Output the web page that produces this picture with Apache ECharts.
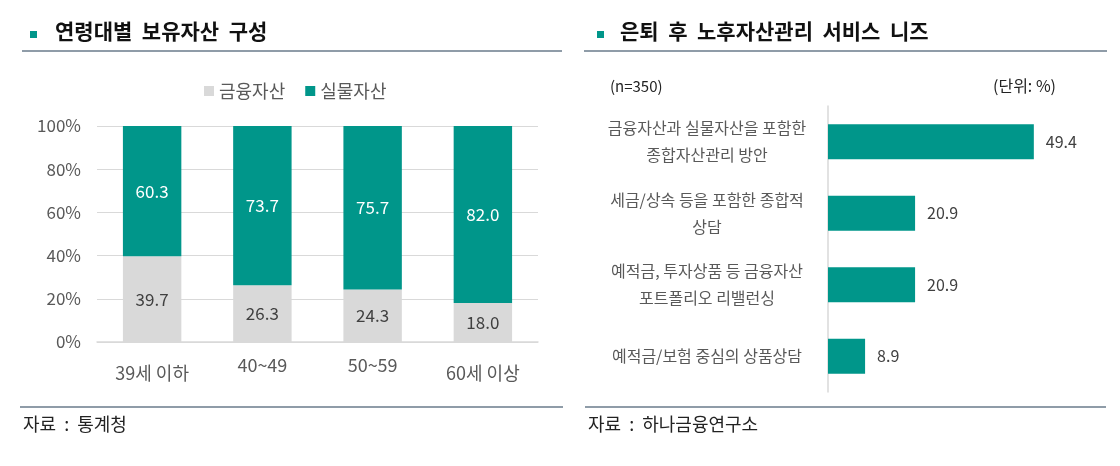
<!DOCTYPE html>
<html>
<head>
<meta charset="utf-8">
<script src="https://cdn.jsdelivr.net/npm/echarts@6/dist/echarts.min.js"></script>
<style>
  html, body { margin: 0; padding: 0; background: #fff; }
  #main { width: 1120px; height: 466px; }
</style>
</head>
<body>
<div id="main"></div>
<script>
// 왼쪽: 연령대별 보유자산 구성
var ageGroups = ['39세 이하', '40~49', '50~59', '60세 이상'];
var financial = [39.7, 26.3, 24.3, 18.0];
var realAsset = [60.3, 73.7, 75.7, 82.0];

// 오른쪽: 노후자산관리 서비스 니즈
var needs = [
    '금융자산과 실물자산을 포함한\n종합자산관리 방안',
    '세금/상속 등을 포함한 종합적\n상담',
    '예적금, 투자상품 등 금융자산\n포트폴리오 리밸런싱',
    '예적금/보험 중심의 상품상담'
];
var needValues = [49.4, 20.9, 20.9, 8.9];

var FONT = "'Noto Sans CJK KR', 'Noto Sans', sans-serif";
var TEAL = '#00968a';
var GRAY = '#d9d9d9';
var TXT = '#595959';
var LINE = '#8f9ca8';

var myChart = echarts.init(document.getElementById('main'));

var option = {
    animation: false,
    textStyle: { fontFamily: FONT },
    legend: {
        data: ['금융자산', '실물자산'],
        top: 77,
        left: 199,
        itemWidth: 10,
        itemHeight: 10,
        itemGap: 20,
        icon: 'rect',
        textStyle: { fontSize: 18, color: TXT, fontFamily: FONT }
    },
    graphic: [
        { type: 'rect', shape: { x: 30, y: 31, width: 7, height: 7 }, style: { fill: TEAL } },
        { type: 'text', left: 55, top: 21, style: { text: '연령대별  보유자산  구성', font: 'bold 21px ' + FONT, fill: '#111' } },
        { type: 'rect', shape: { x: 22, y: 50, width: 540, height: 2 }, style: { fill: LINE } },
        { type: 'rect', shape: { x: 597, y: 31, width: 7, height: 7 }, style: { fill: TEAL } },
        { type: 'text', left: 620, top: 21, style: { text: '은퇴  후  노후자산관리  서비스  니즈', font: 'bold 21px ' + FONT, fill: '#111' } },
        { type: 'rect', shape: { x: 584, y: 50, width: 523, height: 2 }, style: { fill: LINE } },
        { type: 'text', left: 610, top: 79, style: { text: '(n=350)', font: '15px ' + FONT, fill: '#222' } },
        { type: 'text', left: 993, top: 78, style: { text: '(단위: %)', font: '16px ' + FONT, fill: '#222' } },
        { type: 'rect', shape: { x: 20, y: 406, width: 543, height: 2 }, style: { fill: LINE } },
        { type: 'rect', shape: { x: 585, y: 406, width: 521, height: 2 }, style: { fill: LINE } },
        { type: 'text', left: 23, top: 415, style: { text: '자료  :  통계청', font: '18px ' + FONT, fill: '#222' } },
        { type: 'text', left: 588, top: 415, style: { text: '자료  :  하나금융연구소', font: '18px ' + FONT, fill: '#222' } }
    ],
    grid: [
        { left: 97, right: 582, top: 126, bottom: 124 },
        { left: 828, width: 250, top: 106, height: 286 }
    ],
    xAxis: [
        {
            gridIndex: 0,
            type: 'category',
            data: ageGroups,
            axisTick: { show: false },
            axisLine: { lineStyle: { color: GRAY, width: 1.5 } },
            axisLabel: {
                margin: 14,
                interval: 0,
                formatter: function (v, i) {
                    return (i === 0 || i === 3) ? '{lo|' + v + '}' : '{hi|' + v + '}';
                },
                rich: {
                    lo: { fontSize: 18, color: TXT, fontFamily: FONT, padding: [8, 0, 0, 0] },
                    hi: { fontSize: 18, color: TXT, fontFamily: FONT, padding: [0, 0, 0, 0] }
                }
            }
        },
        {
            gridIndex: 1,
            type: 'value',
            min: 0,
            max: 60,
            show: false
        }
    ],
    yAxis: [
        {
            gridIndex: 0,
            type: 'value',
            min: 0,
            max: 100,
            interval: 20,
            axisLine: { show: false },
            axisTick: { show: false },
            axisLabel: { formatter: '{value}%', fontSize: 17, color: TXT, margin: 16 },
            splitLine: { lineStyle: { color: GRAY, width: 1 } }
        },
        {
            gridIndex: 1,
            type: 'category',
            data: needs,
            inverse: true,
            axisTick: { show: false },
            axisLine: { lineStyle: { color: GRAY, width: 1.5 } },
            axisLabel: {
                interval: 0,
                align: 'center',
                margin: 121,
                fontSize: 16,
                lineHeight: 27,
                color: TXT
            }
        }
    ],
    series: [
        {
            name: '금융자산',
            type: 'bar',
            stack: 'total',
            xAxisIndex: 0,
            yAxisIndex: 0,
            barWidth: '53%',
            data: financial,
            itemStyle: { color: GRAY },
            label: {
                show: true,
                position: 'inside',
                fontSize: 17,
                color: '#404040',
                formatter: function (p) { return p.value.toFixed(1); }
            }
        },
        {
            name: '실물자산',
            type: 'bar',
            stack: 'total',
            xAxisIndex: 0,
            yAxisIndex: 0,
            barWidth: '53%',
            data: realAsset,
            itemStyle: { color: TEAL },
            label: {
                show: true,
                position: 'inside',
                fontSize: 17,
                color: '#fff',
                formatter: function (p) { return p.value.toFixed(1); }
            }
        },
        {
            name: '니즈',
            type: 'bar',
            xAxisIndex: 1,
            yAxisIndex: 1,
            barWidth: '49%',
            data: needValues,
            itemStyle: { color: TEAL },
            label: {
                show: true,
                position: 'right',
                distance: 12,
                fontSize: 16,
                color: '#404040',
                formatter: function (p) { return p.value.toFixed(1); }
            }
        }
    ]
};

myChart.setOption(option);
</script>
</body>
</html>
